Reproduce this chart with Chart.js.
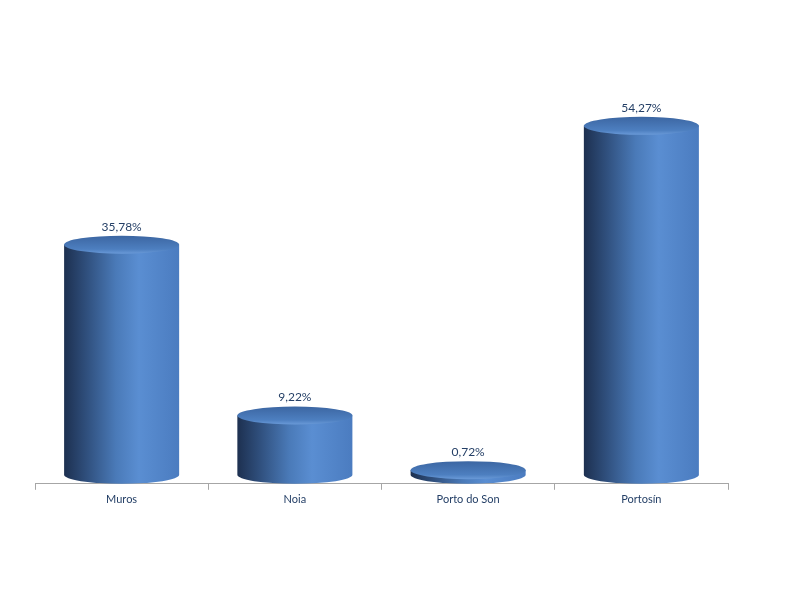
<!DOCTYPE html>
<html>
<head>
<meta charset="utf-8">
<script src="https://cdn.jsdelivr.net/npm/chart.js@4/dist/chart.umd.min.js"></script>
<style>
  body { margin: 0; background: #fff; }
  #wrap { width: 800px; height: 600px; }
</style>
</head>
<body>
<div id="wrap"><canvas id="myChart" width="800" height="600"></canvas></div>
<script>
var categories = ["Muros", "Noia", "Porto do Son", "Portosín"];
var values = [35.78, 9.22, 0.72, 54.27];
var valueLabels = ["35,78%", "9,22%", "0,72%", "54,27%"];

var textColor = "#243F66";
var depth = 9;

function bodyGradient(ctx, left, right) {
  var g = ctx.createLinearGradient(left, 0, right, 0);
  g.addColorStop(0, "#1d3050");
  g.addColorStop(0.2, "#30507e");
  g.addColorStop(0.45, "#4a7ab8");
  g.addColorStop(0.65, "#5a8ed2");
  g.addColorStop(1, "#4b7cc0");
  return g;
}

var cylinders = {
  id: "cylinders",
  afterDatasetsDraw: function(chart) {
    var ctx = chart.ctx;
    var meta = chart.getDatasetMeta(0);
    meta.data.forEach(function(bar, i) {
      var rx = bar.width / 2;
      var ry = 9;
      var cx = bar.x;
      var yTop = bar.y - depth;
      var yBot = bar.base - depth;
      var left = cx - rx, right = cx + rx;

      ctx.save();
      // body + bottom half ellipse
      ctx.beginPath();
      ctx.moveTo(left, yTop);
      ctx.lineTo(left, yBot);
      ctx.ellipse(cx, yBot, rx, ry, 0, Math.PI, 0, true);
      ctx.lineTo(right, yTop);
      ctx.closePath();
      ctx.fillStyle = bodyGradient(ctx, left, right);
      ctx.fill();

      // top ellipse
      ctx.beginPath();
      ctx.ellipse(cx, yTop, rx, ry, 0, 0, Math.PI * 2);
      var tg = ctx.createLinearGradient(0, yTop - ry, 0, yTop + ry);
      tg.addColorStop(0, "#3c66a2");
      tg.addColorStop(0.75, "#4d7fc0");
      tg.addColorStop(1, "#6a9ad8");
      ctx.fillStyle = tg;
      ctx.fill();

      // label
      ctx.fillStyle = textColor;
      ctx.font = "12px Lato, 'Open Sans', sans-serif";
      ctx.textAlign = "center";
      ctx.textBaseline = "bottom";
      ctx.fillText(valueLabels[i], cx, yTop - ry - 3);
      ctx.restore();
    });
  }
};

var ctx = document.getElementById("myChart");
var myChart = new Chart(ctx, {
  type: "bar",
  data: {
    labels: categories,
    datasets: [{
      data: values,
      backgroundColor: "rgba(0,0,0,0)",
      barPercentage: 0.664,
      categoryPercentage: 1
    }]
  },
  options: {
    responsive: false,
    animation: false,
    events: [],
    layout: { padding: { left: 35, right: 72, top: 98, bottom: 91 } },
    plugins: { legend: { display: false }, tooltip: { enabled: false } },
    scales: {
      y: { display: false, min: 0, max: 60 },
      x: {
        border: { display: true, color: "#a6a6a6", width: 1 },
        grid: { display: true, drawOnChartArea: false, offset: true, tickLength: 6, color: "#a6a6a6" },
        ticks: { color: textColor, font: { size: 11, family: "Lato, 'Open Sans', sans-serif" }, padding: 3 }
      }
    }
  },
  plugins: [cylinders]
});
</script>
</body>
</html>
